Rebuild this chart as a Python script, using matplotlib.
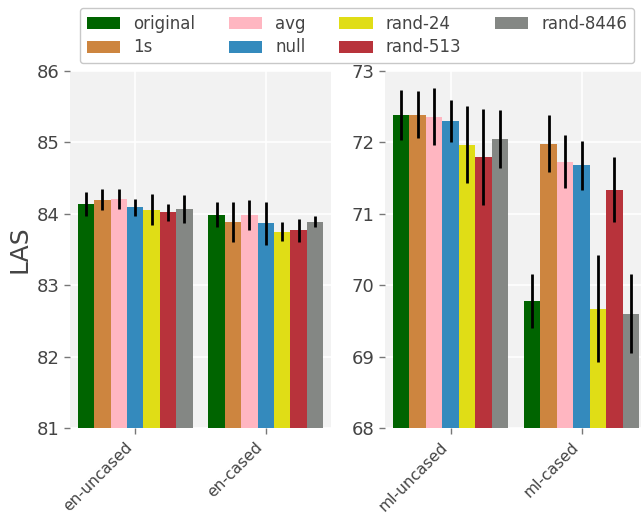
import numpy as np
import matplotlib
matplotlib.use('Agg')
import matplotlib.pyplot as plt

# data
methods = ['original', '1s', 'avg', 'null', 'rand-24', 'rand-513', 'rand-8446']
colors = ['#006400', '#cd853f', '#ffb6c1', '#348abd', '#e0dd16', '#b8333b', '#848784']

en_models = ['en-uncased', 'en-cased']
en_las = [
    [84.14, 84.20, 84.21, 84.09, 84.06, 84.02, 84.07],
    [83.99, 83.88, 83.98, 83.87, 83.75, 83.77, 83.89],
]
en_err = [
    [0.17, 0.15, 0.14, 0.12, 0.22, 0.12, 0.20],
    [0.18, 0.28, 0.21, 0.30, 0.13, 0.16, 0.08],
]

ml_models = ['ml-uncased', 'ml-cased']
ml_las = [
    [72.39, 72.39, 72.36, 72.30, 71.97, 71.80, 72.05],
    [69.78, 71.98, 71.73, 71.68, 69.67, 71.34, 69.60],
]
ml_err = [
    [0.35, 0.33, 0.40, 0.30, 0.54, 0.67, 0.41],
    [0.38, 0.40, 0.37, 0.34, 0.75, 0.46, 0.55],
]

text_color = '#444444'


def draw_panel(ax, models, las, err, ylim):
    n = len(methods)
    group_width = 0.88
    w = group_width / n
    x = np.arange(len(models))
    las = np.array(las)
    err = np.array(err)
    for i, m in enumerate(methods):
        pos = x - group_width / 2 + w * (i + 0.5)
        ax.bar(pos, las[:, i], width=w, color=colors[i], label=m, zorder=2)
        ax.errorbar(pos, las[:, i], yerr=err[:, i], fmt='none', ecolor='black',
                    elinewidth=2, capsize=0, zorder=3)
    ax.set_facecolor('#f2f2f2')
    ax.set_xlim(-0.5, len(models) - 0.5)
    ax.set_ylim(*ylim)
    ax.set_yticks(np.arange(ylim[0], ylim[1] + 1))
    ax.set_xticks(x)
    ax.set_xticklabels(models, rotation=45, ha='right')
    ax.grid(True, color='white', linewidth=1.2, zorder=0)
    ax.set_axisbelow(True)
    for s in ax.spines.values():
        s.set_visible(False)
    ax.tick_params(axis='both', colors='#777777', labelcolor=text_color,
                   labelsize=13, length=4, width=1)
    ax.tick_params(axis='x', labelsize=11.2, pad=4)


fig = plt.figure(figsize=(6.41, 5.14), dpi=100)
ax1 = fig.add_axes([70 / 641, 1 - 428 / 514, 261 / 641, 357 / 514])
ax2 = fig.add_axes([385 / 641, 1 - 428 / 514, 262 / 641, 357 / 514])

draw_panel(ax1, en_models, en_las, en_err, (81, 86))
draw_panel(ax2, ml_models, ml_las, ml_err, (68, 73))

ax1.set_ylabel('LAS', fontsize=18, color=text_color)

handles, labels = ax1.get_legend_handles_labels()
fig.legend(handles, labels, ncol=4, loc='upper center',
           bbox_to_anchor=(357 / 641, 1 - 8 / 514), borderaxespad=0,
           fontsize=12, labelcolor=text_color, frameon=True, edgecolor='#bbbbbb',
           fancybox=True, columnspacing=2.0, handlelength=2.0,
           handletextpad=0.8, labelspacing=0.35)

fig.savefig('out.png', dpi=100)
